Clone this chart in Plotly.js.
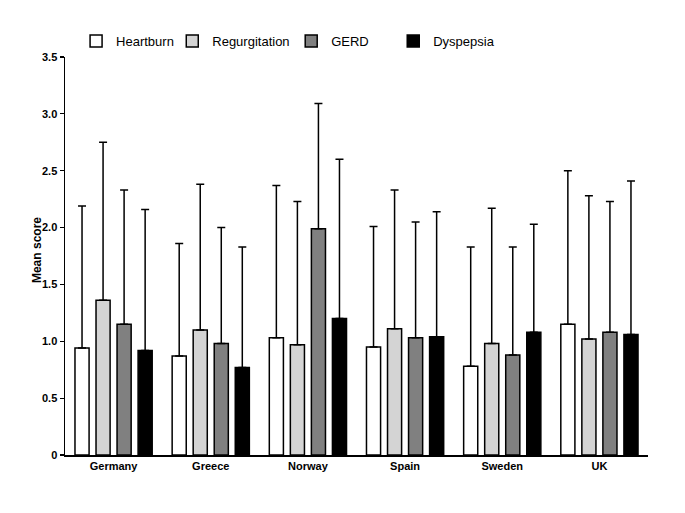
<!DOCTYPE html>
<html>
<head>
<meta charset="utf-8">
<script src="https://cdn.plot.ly/plotly-3.0.1.min.js"></script>
<style>html,body{margin:0;padding:0;background:#fff;}#chart{width:685px;height:513px;}</style>
</head>
<body>
<div id="chart"></div>
<script>
const countries = ["Germany", "Greece", "Norway", "Spain", "Sweden", "UK"];
const seriesNames = ["Heartburn", "Regurgitation", "GERD", "Dyspepsia"];
const heartburn = [0.94, 0.87, 1.03, 0.95, 0.78, 1.15];
const regurgitation = [1.36, 1.10, 0.97, 1.11, 0.98, 1.02];
const gerd = [1.15, 0.98, 1.99, 1.03, 0.88, 1.08];
const dyspepsia = [0.92, 0.77, 1.20, 1.04, 1.08, 1.06];
// upper end of the error bars (mean + SD)
const heartburnTop = [2.19, 1.86, 2.37, 2.01, 1.83, 2.50];
const regurgitationTop = [2.75, 2.38, 2.23, 2.33, 2.17, 2.28];
const gerdTop = [2.33, 2.00, 3.09, 2.05, 1.83, 2.23];
const dyspepsiaTop = [2.16, 1.83, 2.60, 2.14, 2.03, 2.41];
const yTickVals = [0, 0.5, 1.0, 1.5, 2.0, 2.5, 3.0, 3.5];
const yTickText = ["0", "0.5", "1.0", "1.5", "2.0", "2.5", "3.0", "3.5"];
const yTitle = "Mean score";

const means = [heartburn, regurgitation, gerd, dyspepsia];
const tops = [heartburnTop, regurgitationTop, gerdTop, dyspepsiaTop];
const fills = ["#ffffff", "#d4d4d4", "#808080", "#000000"];
const legendIds = ["legend", "legend2", "legend3", "legend4"];

const traces = seriesNames.map((name, i) => ({
  type: "bar",
  name: name,
  x: countries,
  y: means[i],
  legend: legendIds[i],
  marker: {color: fills[i], line: {color: "#000", width: 1.5}},
  error_y: {
    type: "data",
    symmetric: false,
    array: tops[i].map((t, k) => +(t - means[i][k]).toFixed(3)),
    arrayminus: means[i].map(() => 0),
    color: "#000",
    thickness: 1.5,
    width: 4
  }
}));

const legendFont = {family: "Liberation Sans, Arial, sans-serif", size: 13, color: "#000"};
const legendX = [0.019, 0.184, 0.388, 0.563];
const layout = {
  width: 685, height: 513,
  margin: {l: 65, r: 37, t: 57, b: 58},
  paper_bgcolor: "#fff", plot_bgcolor: "#fff",
  barmode: "group",
  bargap: 0.134,
  bargroupgap: 0.33,
  font: {family: "Liberation Sans, Arial, sans-serif", color: "#000"},
  xaxis: {
    showline: true, linecolor: "#000", linewidth: 1.5,
    ticks: "", showgrid: false, zeroline: false,
    tickfont: {size: 11, weight: "bold"},
    range: [-0.5, 5.5]
  },
  yaxis: {
    range: [0, 3.5],
    showline: true, linecolor: "#000", linewidth: 1.5,
    ticks: "outside", ticklen: 4, tickwidth: 1.2, tickcolor: "#000",
    tickvals: yTickVals, ticktext: yTickText,
    tickfont: {size: 11, weight: "bold"},
    showgrid: false, zeroline: false
  },
  annotations: [{
    text: yTitle, xref: "paper", yref: "paper",
    x: -0.048, y: 0.515, xanchor: "center", yanchor: "middle",
    textangle: -90, showarrow: false,
    font: {size: 12, weight: "bold", family: "Liberation Sans, Arial, sans-serif"}
  }],
  showlegend: true
};
legendIds.forEach((id, i) => {
  layout[id] = {
    x: legendX[i], xanchor: "left", y: 1.04, yanchor: "middle",
    orientation: "h", font: legendFont, bgcolor: "rgba(0,0,0,0)",
    borderwidth: 0
  };
});

Plotly.newPlot("chart", traces, layout, {displayModeBar: false, staticPlot: true});
</script>
</body>
</html>
